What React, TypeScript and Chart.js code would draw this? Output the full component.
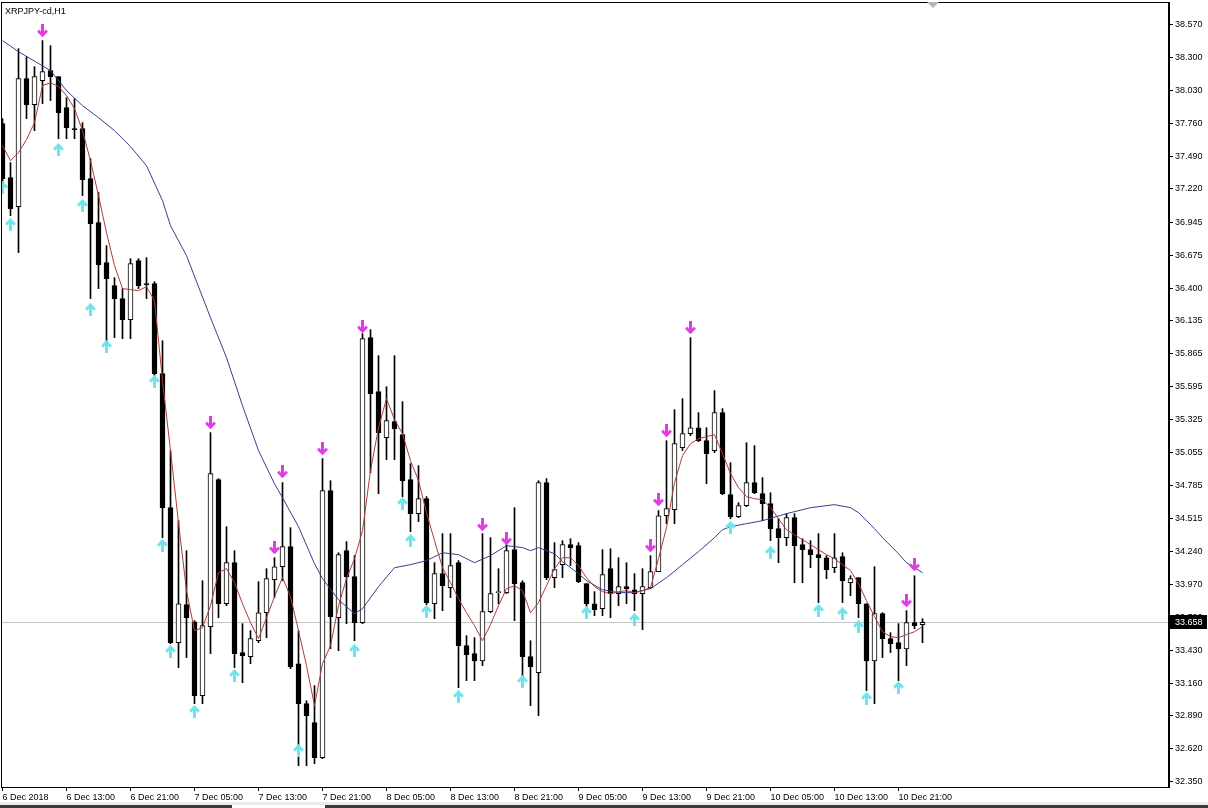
import React, { useEffect, useRef } from 'react';
import { Chart, registerables } from 'chart.js';

Chart.register(...registerables);

const chartTitle = 'XRPJPY-cd,H1';
const lastPrice = 33.658;

const xTickIndex = [0, 8, 16, 24, 32, 40, 48, 56, 64, 72, 80, 88, 96, 104, 112];
const xTickLabels = [
  '6 Dec 2018', '6 Dec 13:00', '6 Dec 21:00', '7 Dec 05:00', '7 Dec 13:00', '7 Dec 21:00',
  '8 Dec 05:00', '8 Dec 13:00', '8 Dec 21:00', '9 Dec 05:00', '9 Dec 13:00', '9 Dec 21:00',
  '10 Dec 05:00', '10 Dec 13:00', '10 Dec 21:00',
];
const yTickValues = [
  38.57, 38.3, 38.03, 37.76, 37.49, 37.22, 36.945, 36.675, 36.4, 36.135, 35.865, 35.595,
  35.325, 35.055, 34.785, 34.515, 34.24, 33.97, 33.7, 33.43, 33.16, 32.89, 32.62, 32.35,
];

const candleOpen = [
  37.757, 37.313, 37.075, 38.126, 37.913, 38.110, 38.192, 38.143, 37.888, 37.715,
  37.715, 37.305, 36.943, 36.614, 36.425, 36.319, 36.146, 36.631, 36.442, 36.442,
  35.702, 34.601, 33.492, 33.804, 33.664, 33.056, 33.623, 34.831, 33.812, 34.149,
  33.410, 33.377, 33.508, 33.738, 34.010, 34.116, 34.281, 33.319, 32.991, 32.835,
  32.547, 34.741, 33.697, 34.248, 34.034, 33.656, 35.998, 35.554, 35.176, 35.308,
  35.201, 34.831, 34.552, 34.675, 33.812, 34.059, 33.944, 34.149, 33.467, 33.402,
  33.341, 33.747, 33.903, 33.903, 34.256, 33.985, 33.377, 33.245, 34.807, 34.026,
  34.133, 34.297, 34.289, 33.977, 33.812, 33.771, 34.100, 33.895, 33.952, 33.927,
  33.895, 33.944, 34.075, 34.535, 34.585, 35.094, 35.209, 35.258, 35.152, 35.070,
  35.382, 34.708, 34.527, 34.618, 34.807, 34.716, 34.634, 34.429, 34.355, 34.519,
  34.297, 34.256, 34.215, 34.190, 34.108, 34.199, 33.985, 34.026, 33.812, 33.341,
  33.730, 33.525, 33.492, 33.440, 33.656, 33.640,
];
const candleHigh = [
  37.798, 37.436, 38.373, 38.307, 38.225, 38.439, 38.397, 38.143, 37.970, 37.962,
  37.765, 37.469, 37.190, 36.754, 36.491, 36.401, 36.647, 36.647, 36.655, 36.458,
  35.973, 35.070, 34.494, 34.248, 33.673, 34.001, 35.218, 34.840, 34.445, 34.248,
  33.648, 33.591, 33.993, 34.100, 34.190, 34.807, 34.437, 33.591, 33.015, 33.139,
  35.004, 34.823, 34.231, 34.322, 34.207, 36.031, 36.064, 35.850, 35.595, 35.850,
  35.472, 34.963, 34.946, 34.692, 34.149, 34.388, 34.388, 34.166, 33.549, 33.533,
  34.388, 34.355, 34.100, 34.305, 34.601, 34.001, 33.508, 34.823, 34.840, 34.314,
  34.330, 34.346, 34.314, 33.977, 33.911, 34.256, 34.264, 34.190, 34.149, 34.059,
  34.100, 34.207, 34.577, 35.152, 35.406, 35.497, 35.998, 35.382, 35.258, 35.563,
  35.415, 34.971, 34.642, 35.135, 35.111, 34.848, 34.724, 34.511, 34.552, 34.552,
  34.346, 34.330, 34.388, 34.207, 34.388, 34.231, 34.042, 34.026, 33.812, 34.116,
  33.738, 33.574, 33.648, 33.755, 34.042, 33.689,
];
const candleLow = [
  37.272, 37.001, 36.697, 37.798, 37.699, 37.921, 37.946, 37.633, 37.633, 37.633,
  37.165, 36.319, 36.401, 35.949, 35.998, 35.990, 35.990, 36.401, 36.319, 35.686,
  34.355, 33.484, 33.287, 33.369, 32.991, 32.991, 33.402, 33.697, 33.796, 33.287,
  33.163, 33.319, 33.492, 33.533, 33.862, 34.001, 33.278, 32.481, 32.481, 32.498,
  32.539, 33.443, 33.426, 33.648, 33.508, 33.648, 34.889, 34.716, 34.996, 34.996,
  34.692, 34.404, 34.486, 33.804, 33.689, 33.755, 33.862, 33.122, 33.180, 33.180,
  33.303, 33.738, 33.812, 33.895, 33.673, 33.204, 32.974, 32.892, 34.010, 33.944,
  34.026, 34.125, 33.985, 33.788, 33.714, 33.714, 33.697, 33.796, 33.812, 33.755,
  33.599, 33.936, 34.075, 34.470, 34.470, 35.070, 35.193, 35.144, 34.798, 35.053,
  34.708, 34.511, 34.519, 34.609, 34.716, 34.494, 34.330, 34.149, 34.289, 33.985,
  33.985, 34.108, 33.821, 34.018, 34.067, 33.821, 33.878, 33.697, 33.098, 32.991,
  33.369, 33.410, 33.180, 33.303, 33.607, 33.492,
];
const candleClose = [
  37.305, 37.058, 38.126, 37.913, 38.143, 38.184, 38.143, 37.847, 37.724, 37.707,
  37.296, 36.935, 36.598, 36.483, 36.319, 36.146, 36.606, 36.425, 36.434, 35.702,
  34.601, 33.492, 33.812, 33.697, 33.056, 33.632, 34.881, 33.812, 34.149, 33.402,
  33.385, 33.525, 33.738, 34.018, 34.116, 34.281, 33.295, 32.991, 32.892, 32.547,
  34.741, 33.706, 34.215, 34.034, 33.656, 35.990, 35.538, 35.218, 35.316, 35.250,
  34.823, 34.552, 34.675, 33.821, 34.059, 33.960, 34.125, 33.467, 33.393, 33.341,
  33.747, 33.895, 33.911, 34.248, 33.977, 33.377, 33.295, 34.807, 34.026, 34.092,
  34.297, 34.273, 33.993, 33.812, 33.763, 34.051, 33.895, 33.952, 33.936, 33.895,
  33.952, 34.075, 34.535, 34.593, 35.127, 35.209, 35.258, 35.152, 35.045, 35.382,
  34.716, 34.527, 34.618, 34.807, 34.724, 34.634, 34.429, 34.355, 34.519, 34.289,
  34.256, 34.215, 34.190, 34.092, 34.190, 34.001, 34.018, 33.812, 33.341, 33.730,
  33.525, 33.484, 33.440, 33.656, 33.632, 33.658,
];

const fastMa = [
  37.576, 37.452, 37.518, 37.625, 37.765, 38.069, 38.093, 38.061, 37.987, 37.880,
  37.699, 37.452, 37.165, 36.861, 36.590, 36.401, 36.393, 36.384, 36.417, 36.302,
  35.645, 35.070, 34.478, 33.919, 33.591, 33.615, 33.796, 34.067, 34.100, 33.985,
  33.812, 33.656, 33.525, 33.697, 33.870, 34.026, 33.870, 33.591, 33.303, 32.974,
  33.319, 33.467, 33.796, 34.018, 34.182, 34.412, 34.905, 35.258, 35.497, 35.324,
  35.209, 34.987, 34.823, 34.560, 34.330, 34.108, 33.985, 33.853, 33.738, 33.632,
  33.508, 33.640, 33.796, 33.936, 33.960, 33.919, 33.738, 33.821, 33.960, 34.100,
  34.190, 34.190, 34.125, 34.026, 33.952, 33.911, 33.895, 33.911, 33.919, 33.903,
  33.919, 33.944, 34.182, 34.437, 34.807, 35.029, 35.127, 35.168, 35.185, 35.201,
  35.045, 34.881, 34.766, 34.692, 34.675, 34.667, 34.601, 34.511, 34.420, 34.379,
  34.338, 34.297, 34.256, 34.215, 34.182, 34.133, 34.084, 33.977, 33.837, 33.706,
  33.582, 33.541, 33.533, 33.558, 33.582, 33.623,
];

const slowMaIndex = [
  0, 2, 6, 8, 10, 12, 14, 16, 18, 20, 21, 23, 26, 28, 30, 32, 34, 35, 37, 39, 40, 42, 44, 45,
  47, 49, 51, 53, 55, 57, 59, 61, 63, 65, 66, 67, 69, 70, 72, 73, 75, 77, 79, 81, 83, 85, 87,
  89, 90, 91, 93, 95, 98, 101, 104, 106, 107, 109, 110, 112, 113, 115,
];
const slowMaValue = [
  38.439, 38.348, 38.192, 38.028, 37.904, 37.806, 37.699, 37.568, 37.411, 37.124,
  36.918, 36.672, 36.162, 35.834, 35.439, 35.070, 34.798, 34.683, 34.445, 34.141,
  34.018, 33.845, 33.730, 33.771, 33.952, 34.108, 34.133, 34.166, 34.231, 34.215,
  34.149, 34.207, 34.289, 34.273, 34.248, 34.273, 34.223, 34.158, 34.059, 34.001,
  33.927, 33.903, 33.903, 33.936, 34.026, 34.133, 34.240, 34.355, 34.420, 34.445,
  34.470, 34.494, 34.552, 34.601, 34.626, 34.601, 34.560, 34.429, 34.355, 34.223,
  34.149, 34.067,
];

const downArrowIndex = [5, 26, 34, 35, 40, 45, 60, 63, 81, 82, 83, 86, 113, 114];
const downArrowValue = [
  38.521, 35.300, 34.273, 34.897, 35.086, 36.089, 34.462, 34.346, 34.289, 34.667,
  35.234, 36.080, 33.837, 34.133,
];
const upArrowIndex = [
  0, 1, 7, 10, 11, 13, 19, 20, 21, 24, 29, 37, 44, 50, 51, 53, 57, 65, 73, 79, 91, 96, 102,
  105, 107, 108, 112,
];
const upArrowValue = [
  37.231, 36.927, 37.543, 37.083, 36.228, 35.924, 35.637, 34.289, 33.418, 32.925,
  33.221, 32.605, 33.426, 34.634, 34.330, 33.747, 33.048, 33.171, 33.738, 33.681,
  34.437, 34.231, 33.755, 33.730, 33.623, 33.032, 33.122,
];

const FONT = '"Liberation Sans", Arial, sans-serif';

function makeArrow(color: string, down: boolean): HTMLCanvasElement {
  const c = document.createElement('canvas');
  c.width = 11;
  c.height = 13;
  const g = c.getContext('2d')!;
  if (down) {
    g.translate(0, 13);
    g.scale(1, -1);
  }
  g.strokeStyle = color;
  g.lineWidth = 3;
  g.lineJoin = 'miter';
  g.lineCap = 'butt';
  g.beginPath();
  g.moveTo(5.5, 2.5);
  g.lineTo(5.5, 13);
  g.stroke();
  g.beginPath();
  g.moveTo(1, 6.5);
  g.lineTo(5.5, 2);
  g.lineTo(10, 6.5);
  g.stroke();
  return c;
}

function zeroPad(s: any) {
  s.paddingLeft = 0;
  s.paddingRight = 0;
  s.paddingTop = 0;
  s.paddingBottom = 0;
}

export default function App() {
  const ref = useRef<HTMLCanvasElement>(null);

  useEffect(() => {
    const canvas = ref.current!;
    const idx = candleOpen.map((_, i) => i);
    const wickData = idx.map((i) => ({ x: i, y: [candleLow[i], candleHigh[i]] }));
    const bodyData = idx.map((i) => ({ x: i, y: [candleOpen[i], candleClose[i]] }));
    const bodyColors = idx.map((i) => (candleClose[i] >= candleOpen[i] ? '#ffffff' : '#000000'));
    const fastData = fastMa.map((v, i) => ({ x: i, y: v }));
    const slowData = slowMaIndex.map((x, k) => ({ x, y: slowMaValue[k] }));
    const downData = downArrowIndex.map((x, k) => ({ x, y: downArrowValue[k] }));
    const upData = upArrowIndex.map((x, k) => ({ x, y: upArrowValue[k] }));

    const downImg = makeArrow('#e03ce6', true);
    const upImg = makeArrow('#6fe4ee', false);

    const decor = {
      id: 'mtDecor',
      beforeDatasetsDraw(chart: any) {
        const { ctx, chartArea } = chart;
        const y = Math.round(chart.scales.y.getPixelForValue(lastPrice)) + 0.5;
        ctx.save();
        ctx.strokeStyle = '#c4c4c4';
        ctx.lineWidth = 1;
        ctx.beginPath();
        ctx.moveTo(chartArea.left, y);
        ctx.lineTo(chartArea.right, y);
        ctx.stroke();
        ctx.restore();
      },
      afterDraw(chart: any) {
        const { ctx, chartArea } = chart;
        ctx.save();
        ctx.strokeStyle = '#000';
        ctx.lineWidth = 1;
        ctx.strokeRect(chartArea.left + 0.5, chartArea.top + 0.5, chartArea.right - chartArea.left - 1, chartArea.bottom - chartArea.top);
        ctx.fillStyle = '#000';
        ctx.font = `9px ${FONT}`;
        ctx.textBaseline = 'alphabetic';
        ctx.textAlign = 'left';
        ctx.fillText(chartTitle, 5, 14);
        ctx.fillStyle = '#b4b4b4';
        ctx.beginPath();
        ctx.moveTo(927, 2);
        ctx.lineTo(939, 2);
        ctx.lineTo(933, 8);
        ctx.closePath();
        ctx.fill();
        const y = Math.round(chart.scales.y.getPixelForValue(lastPrice));
        ctx.fillStyle = '#000';
        ctx.fillRect(chartArea.right + 1, y - 7, 37, 14);
        ctx.fillStyle = '#fff';
        ctx.textBaseline = 'middle';
        ctx.fillText(lastPrice.toFixed(3), chartArea.right + 6, y + 0.5);
        ctx.restore();
      },
    };

    const tickFont = { family: FONT, size: 9 };
    const xMin = -0.1875;

    const chart = new Chart(canvas, {
      type: 'bar',
      data: {
        datasets: [
          { type: 'line', data: downData, showLine: false, pointStyle: downImg, pointRadius: 5, order: 0 } as any,
          { type: 'line', data: upData, showLine: false, pointStyle: upImg, pointRadius: 5, order: 0 } as any,
          { type: 'line', data: fastData, borderColor: '#b03a3a', borderWidth: 1, pointRadius: 0, tension: 0, order: 1 } as any,
          { type: 'line', data: slowData, borderColor: '#3c3c8e', borderWidth: 1, pointRadius: 0, tension: 0, spanGaps: true, order: 2 } as any,
          {
            type: 'bar',
            data: bodyData,
            backgroundColor: bodyColors,
            borderColor: '#000',
            borderWidth: 1,
            borderSkipped: false,
            barThickness: 5,
            minBarLength: 1,
            grouped: false,
            order: 3,
          } as any,
          { type: 'bar', data: wickData, backgroundColor: '#000', borderWidth: 0, barThickness: 1, grouped: false, order: 4 } as any,
        ],
      },
      options: {
        responsive: false,
        animation: false,
        events: [],
        devicePixelRatio: 1,
        layout: { autoPadding: false, padding: { left: 1, top: 2, right: 0, bottom: 0 } },
        plugins: { legend: { display: false }, tooltip: { enabled: false } },
        scales: {
          x: {
            type: 'linear',
            position: 'bottom',
            min: xMin,
            max: xMin + 1168 / 8,
            offset: false,
            afterBuildTicks: (s: any) => {
              s.ticks = xTickIndex.map((v) => ({ value: v }));
            },
            afterFit: (s: any) => {
              s.height = 21;
              zeroPad(s);
            },
            ticks: {
              autoSkip: false,
              maxRotation: 0,
              minRotation: 0,
              align: 'start',
              padding: 1,
              color: '#000',
              font: tickFont,
              callback: (v: any) => {
                const k = xTickIndex.indexOf(Number(v));
                return k >= 0 ? xTickLabels[k] : '';
              },
            },
            grid: { display: true, drawOnChartArea: false, drawTicks: true, tickLength: 4, color: '#000', offset: false },
            border: { display: true, color: '#000' },
          },
          y: {
            type: 'linear',
            position: 'right',
            min: 32.306,
            max: 38.756,
            beginAtZero: false,
            afterBuildTicks: (s: any) => {
              s.ticks = yTickValues.map((v) => ({ value: v }));
            },
            afterFit: (s: any) => {
              s.width = 39;
              zeroPad(s);
            },
            ticks: {
              padding: 2,
              color: '#000',
              font: tickFont,
              callback: (v: any) => Number(v).toFixed(3),
            },
            grid: { display: true, drawOnChartArea: false, drawTicks: true, tickLength: 4, color: '#000' },
            border: { display: true, color: '#000' },
          },
        },
      } as any,
      plugins: [decor],
    });

    return () => chart.destroy();
  }, []);

  return (
    <div style={{ position: 'fixed', left: 0, top: 0, width: 1208, height: 808, background: '#fff', overflow: 'hidden' }}>
      <canvas ref={ref} width={1208} height={808} style={{ display: 'block', width: 1208, height: 808 }} />
      <div style={{ position: 'absolute', left: 0, top: 802, width: 1208, height: 3, background: '#ececec' }} />
      <div style={{ position: 'absolute', left: 0, top: 805, width: 232, height: 3, background: '#3a3a3a' }} />
      <div style={{ position: 'absolute', left: 325, top: 805, width: 883, height: 3, background: '#3a3a3a' }} />
    </div>
  );
}
